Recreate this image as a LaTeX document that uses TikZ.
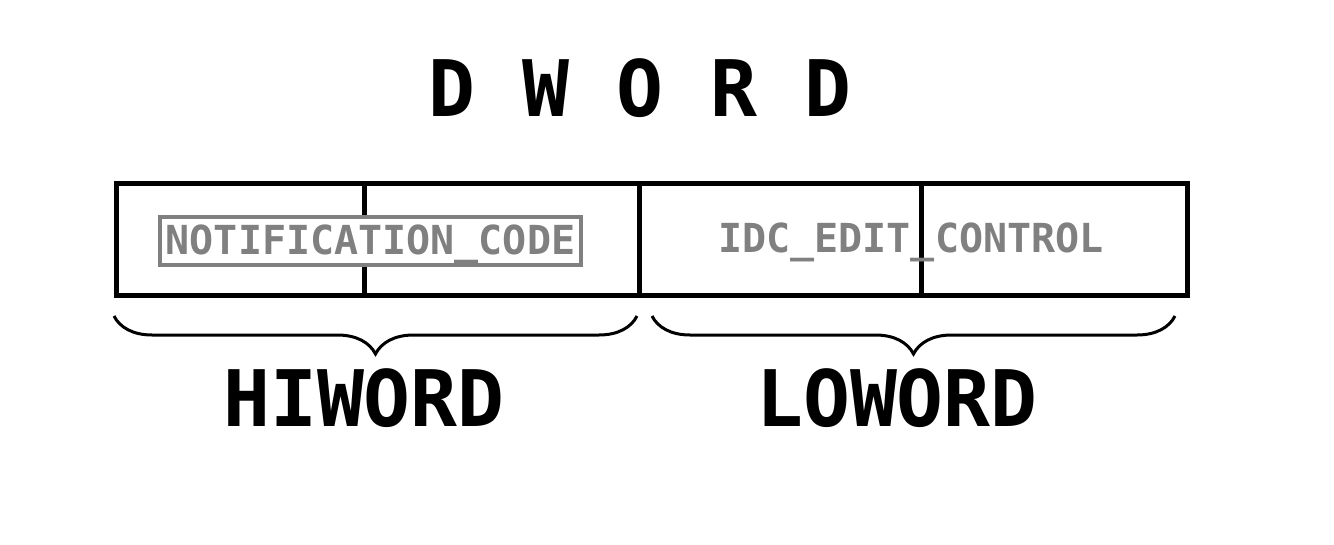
\documentclass[tikz,border=0pt]{standalone}
\usepackage{fontspec}
\setmonofont{DejaVu Sans Mono}
\usetikzlibrary{positioning,decorations.pathreplacing}
\definecolor{codegray}{RGB}{128,128,128}

\begin{document}
\begin{tikzpicture}[
    x=1pt, y=-1pt,
    cell/.style={rectangle, draw=black, line width=5pt, minimum height=112pt,
                 inner sep=0pt, outer sep=0pt},
    codebox/.style={rectangle, draw=codegray, fill=white, line width=4.5pt, text=codegray,
                 minimum width=421pt, text height=37pt, text depth=11pt, inner sep=0pt,
                 font=\ttfamily\bfseries\fontsize{40}{44}\selectfont},
    codetext/.style={text=codegray, inner sep=0pt,
                 font=\ttfamily\bfseries\fontsize{40}{44}\selectfont},
    bigword/.style={inner sep=0pt, font=\ttfamily\bfseries\fontsize{78}{84}\selectfont},
    brc/.style={decorate, decoration={brace, mirror, amplitude=38pt}, line width=3pt}
  ]
    \useasboundingbox (0,0) rectangle (1334,544);

    \node[bigword] (dword) at (640, 88) {D W O R D};

    \node[cell, minimum width=248pt] (hi1) at (240, 239) {};
    \node[cell, minimum width=275pt] (hi2) at (501.5, 239) {};
    \node[cell, minimum width=282pt] (lo1) at (780, 239) {};
    \node[cell, minimum width=266pt] (lo2) at (1054, 239) {};

    \node[codebox] (notif) at (370.5, 241) {NOTIFICATION\_CODE};
    \node[codetext, anchor=base] (idc) at (911, 252) {IDC\_EDIT\_CONTROL};

    \coordinate (hibl) at (114, 316);
    \coordinate (hibr) at (637, 316);
    \coordinate (lobl) at (652, 316);
    \coordinate (lobr) at (1175, 316);
    \draw[brc] (hibl) -- (hibr);
    \draw[brc] (lobl) -- (lobr);

    \node[bigword] (hiword) at (364, 398) {HIWORD};
    \node[bigword] (loword) at (897, 398) {LOWORD};
  \end{tikzpicture}
\end{document}
